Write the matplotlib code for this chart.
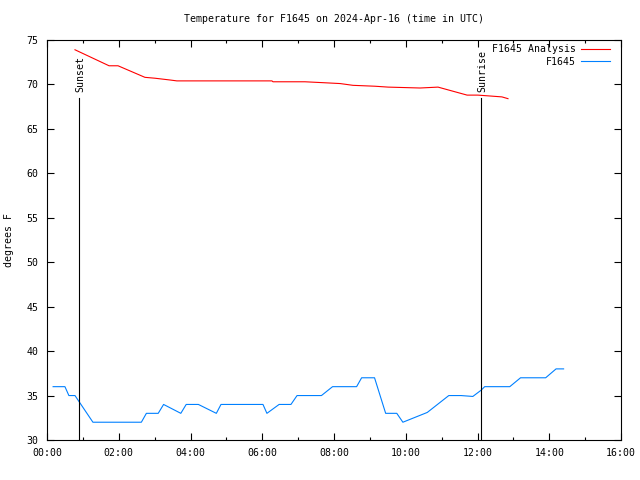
import matplotlib
matplotlib.use("Agg")
import matplotlib.pyplot as plt
from matplotlib.ticker import MultipleLocator, FuncFormatter

# Observed (F1645) – hours UTC, deg F
obs_t = [0.17, 0.50, 0.61, 0.78, 1.28, 2.63, 2.77, 3.10, 3.25, 3.73, 3.88, 4.22,
         4.72, 4.85, 6.02, 6.13, 6.47, 6.80, 6.97, 7.65, 7.96, 8.63, 8.77, 9.13,
         9.44, 9.75, 9.92, 10.60, 11.20, 11.54, 11.87, 12.10, 12.20, 12.90, 13.20,
         13.90, 14.19, 14.40]
obs_v = [36, 36, 35, 35, 32, 32, 33, 33, 34, 33, 34, 34,
         33, 34, 34, 33, 34, 34, 35, 35, 36, 36, 37, 37,
         33, 33, 32, 33.1, 35, 35, 34.9, 35.6, 36, 36, 37,
         37, 38, 38]

# Analysis (F1645 Analysis)
ana_t = [0.78, 1.73, 1.98, 2.73, 3.01, 3.43, 3.62, 6.27, 6.30, 7.19, 7.69, 8.17,
         8.53, 9.14, 9.51, 10.40, 10.90, 11.71, 12.01, 12.35, 12.68, 12.85]
ana_v = [73.9, 72.1, 72.1, 70.8, 70.7, 70.5, 70.4, 70.4, 70.3, 70.3, 70.2, 70.1,
         69.9, 69.8, 69.7, 69.6, 69.7, 68.8, 68.8, 68.7, 68.6, 68.4]

sunset_t = 0.89
sunrise_t = 12.10
marker_top = 68.5

FONT = "DejaVu Sans Mono"
FS = 7.1
LW = 0.8

fig = plt.figure(figsize=(6.4, 4.8), dpi=100)
ax = fig.add_axes([47/640, 40/480, (621-47)/640, 400/480])

ax.plot(ana_t, ana_v, color="#ff0000", lw=LW, label="F1645 Analysis")
ax.plot(obs_t, obs_v, color="#0080ff", lw=LW, label="F1645")

for t, name in [(sunset_t, "Sunset"), (sunrise_t, "Sunrise")]:
    ax.plot([t, t], [30, marker_top], color="black", lw=LW)
    ax.text(t + 0.03, marker_top + 0.7, name, rotation=90, ha="center", va="bottom",
            fontsize=FS, family=FONT)

ax.set_xlim(0, 16)
ax.set_ylim(30, 75)
ax.xaxis.set_major_locator(MultipleLocator(2))
ax.xaxis.set_minor_locator(MultipleLocator(1))
ax.yaxis.set_major_locator(MultipleLocator(5))
ax.xaxis.set_major_formatter(FuncFormatter(lambda v, p: "%02d:00" % int(round(v))))
ax.tick_params(which="both", direction="in", top=True, right=True,
               labelsize=FS, width=LW, pad=6)
ax.tick_params(which="major", length=5)
ax.tick_params(which="minor", length=2.5)
for lab in ax.get_xticklabels() + ax.get_yticklabels():
    lab.set_family(FONT)
for s in ax.spines.values():
    s.set_linewidth(LW)

ax.set_ylabel("degrees F", fontsize=FS, family=FONT, labelpad=9)
fig.text(334/640, 1 - 19/480, "Temperature for F1645 on 2024-Apr-16 (time in UTC)",
         ha="center", va="center", fontsize=FS, family=FONT)

leg = ax.legend(loc="upper right", frameon=False, markerfirst=False,
                prop={"family": FONT, "size": FS}, handlelength=2.9,
                handletextpad=0.6, borderaxespad=0.0, borderpad=0.2,
                labelspacing=0.3,
                bbox_to_anchor=(612/640, 1 - 42/480),
                bbox_transform=fig.transFigure)
leg._legend_box.align = "right"

fig.savefig("out.png", dpi=100)
